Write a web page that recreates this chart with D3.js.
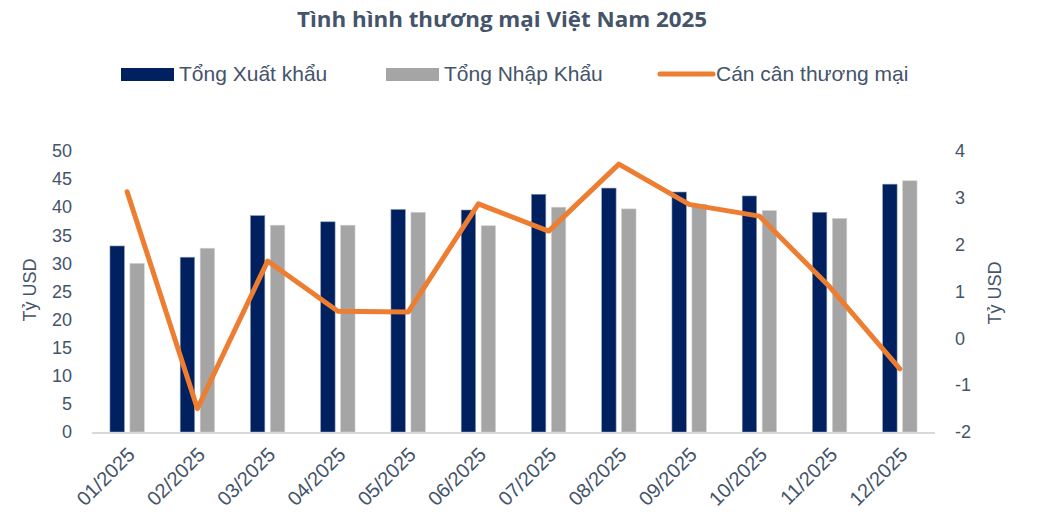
<!DOCTYPE html>
<html>
<head>
<meta charset="utf-8">
<script src="https://cdn.jsdelivr.net/npm/d3@7"></script>
<style>
  body { margin: 0; background: #fff; }
  text { font-family: "Liberation Sans", Arial, sans-serif; fill: #44546a; }
</style>
</head>
<body>
<div id="chart"></div>
<script>
(function() {
	// months on the x axis
	var months = ["01/2025", "02/2025", "03/2025", "04/2025", "05/2025", "06/2025",
		"07/2025", "08/2025", "09/2025", "10/2025", "11/2025", "12/2025"];

	// billion USD
	var exports = [33.1, 31.1, 38.5, 37.4, 39.6, 39.5, 42.3, 43.4, 42.7, 42.0, 39.1, 44.1];
	var imports = [30.0, 32.7, 36.8, 36.8, 39.1, 36.7, 40.0, 39.7, 40.5, 39.4, 38.0, 44.7];
	var balance = [3.13, -1.5, 1.65, 0.58, 0.56, 2.87, 2.29, 3.72, 2.86, 2.61, 1.1, -0.65];

	var leftTicks = [0, 5, 10, 15, 20, 25, 30, 35, 40, 45, 50];
	var rightTicks = [-2, -1, 0, 1, 2, 3, 4];

	var seriesNames = ["Tổng Xuất khẩu", "Tổng Nhập Khẩu", "Cán cân thương mại"];

	var width = 1038, height = 516;
	var margin = { top: 151, left: 92, right: 103, bottom: 84 };
	var innerW = width - margin.left - margin.right,
		innerH = height - margin.top - margin.bottom;

	var navy = "#002060", gray = "#a5a5a5", orange = "#ed7d31";

	var svg = d3.select("#chart")
				.append("svg")
				.attr("width", width)
				.attr("height", height);

	// title
	svg.append("text")
		.attr("x", 502)
		.attr("y", 27)
		.attr("text-anchor", "middle")
		.style("font-family", "'Open Sans', sans-serif")
		.style("font-weight", "bold")
		.style("font-size", "21px")
		.attr("textLength", 410)
		.attr("lengthAdjust", "spacingAndGlyphs")
		.text("Tình hình thương mại Việt Nam 2025");

	// legend
	var legend = svg.append("g").style("font-size", "21px");
	var legendX = [121, 386, 658];
	legend.append("rect").attr("x", legendX[0]).attr("y", 68).attr("width", 53).attr("height", 13).attr("fill", navy);
	legend.append("rect").attr("x", legendX[1]).attr("y", 68).attr("width", 53).attr("height", 13).attr("fill", gray);
	legend.append("line").attr("x1", legendX[2] + 2).attr("x2", legendX[2] + 55).attr("y1", 74).attr("y2", 74)
		.attr("stroke", orange).attr("stroke-width", 5).attr("stroke-linecap", "round");
	legend.selectAll(".legend-label")
		.data(seriesNames)
		.enter()
		.append("text")
		.attr("class", "legend-label")
		.attr("x", function(d, i) { return legendX[i] + 58; })
		.attr("y", 81)
		.text(function(d) { return d; });

	var g = svg.append("g")
		.attr("transform", "translate(" + margin.left + "," + margin.top + ")");

	var xScale = d3.scaleBand()
		.domain(months)
		.range([0, innerW]);

	var xInner = d3.scaleBand()
		.domain(["exp", "imp"])
		.range([0, xScale.bandwidth()])
		.paddingInner(0.28)
		.paddingOuter(0.9);

	var yLeft = d3.scaleLinear()
		.domain([0, 50])
		.range([innerH, 0]);

	var yRight = d3.scaleLinear()
		.domain([-2, 4])
		.range([innerH, 0]);

	// bars
	var groups = g.selectAll(".month")
		.data(months)
		.enter()
		.append("g")
		.attr("class", "month")
		.attr("transform", function(d) { return "translate(" + xScale(d) + ",0)"; });

	groups.append("rect")
		.attr("x", xInner("exp"))
		.attr("width", xInner.bandwidth())
		.attr("y", function(d, i) { return yLeft(exports[i]); })
		.attr("height", function(d, i) { return innerH - yLeft(exports[i]); })
		.attr("fill", navy)
		.attr("stroke", "#8497b0")
		.attr("stroke-width", 0.6);

	groups.append("rect")
		.attr("x", xInner("imp"))
		.attr("width", xInner.bandwidth())
		.attr("y", function(d, i) { return yLeft(imports[i]); })
		.attr("height", function(d, i) { return innerH - yLeft(imports[i]); })
		.attr("fill", gray)
		.attr("stroke", "#d0d0d0")
		.attr("stroke-width", 0.6);

	// baseline
	g.append("line")
		.attr("x1", 0)
		.attr("x2", innerW)
		.attr("y1", innerH + 1)
		.attr("y2", innerH + 1)
		.attr("stroke", "#d9d9d9")
		.attr("stroke-width", 2);

	// balance line
	var line = d3.line()
		.x(function(d, i) { return xScale(months[i]) + xScale.bandwidth() / 2; })
		.y(function(d) { return yRight(d); });

	g.append("path")
		.datum(balance)
		.attr("d", line)
		.attr("fill", "none")
		.attr("stroke", orange)
		.attr("stroke-width", 5)
		.attr("stroke-linejoin", "round")
		.attr("stroke-linecap", "round");

	// axes
	var leftAxis = g.append("g")
		.attr("transform", "translate(-20,0)")
		.call(d3.axisLeft(yLeft).tickValues(leftTicks).tickSize(0).tickPadding(0));
	var rightAxis = g.append("g")
		.attr("transform", "translate(" + (innerW + 20) + ",0)")
		.call(d3.axisRight(yRight).tickValues(rightTicks).tickSize(0).tickPadding(0)
			.tickFormat(function(d) { return String(d); }));
	var bottomAxis = g.append("g")
		.attr("transform", "translate(0," + innerH + ")")
		.call(d3.axisBottom(xScale).tickSize(0).tickPadding(0));

	[leftAxis, rightAxis, bottomAxis].forEach(function(a) {
		a.select(".domain").remove();
		a.selectAll("text")
			.style("font-family", "'Liberation Sans', Arial, sans-serif")
			.style("font-size", "18px")
			.attr("fill", "#44546a");
	});

	bottomAxis.selectAll("text")
		.style("font-size", "20px")
		.attr("text-anchor", "end")
		.attr("dy", null)
		.attr("transform", "translate(9,24) rotate(-45)");

	// axis titles
	svg.append("text")
		.attr("transform", "translate(36,290) rotate(-90)")
		.attr("text-anchor", "middle")
		.style("font-size", "18px")
		.text("Tỷ USD");

	svg.append("text")
		.attr("transform", "translate(1001,293) rotate(-90)")
		.attr("text-anchor", "middle")
		.style("font-size", "18px")
		.text("Tỷ USD");
})();
</script>
</body>
</html>
